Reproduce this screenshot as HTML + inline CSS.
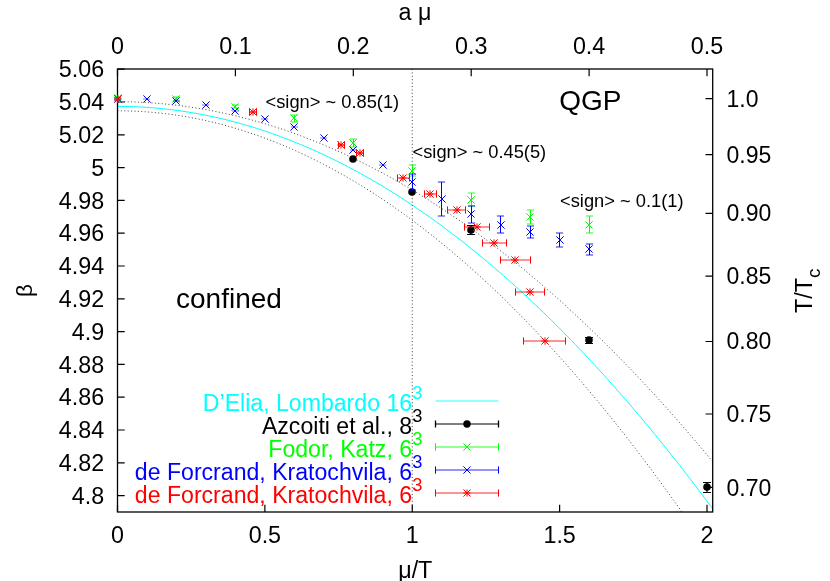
<!DOCTYPE html>
<html><head><meta charset="utf-8"><title>plot</title>
<style>html,body{margin:0;padding:0;background:#fff;}body{width:830px;height:581px;position:relative;overflow:hidden;font-family:"Liberation Sans",sans-serif;}</style></head>
<body>
<svg width="830" height="581" viewBox="0 0 830 581" style="position:absolute;left:0;top:0;will-change:transform" font-family="'Liberation Sans', sans-serif" font-size="23.3" fill="#000">
<rect x="0" y="0" width="830" height="581" fill="#fff"/>
<defs><clipPath id="c"><rect x="117.5" y="69" width="595.2" height="443"/></clipPath></defs>
<g clip-path="url(#c)" fill="none">
<polyline points="117.50,106.40 121.48,106.42 125.46,106.47 129.44,106.56 133.43,106.69 137.41,106.85 141.39,107.05 145.37,107.28 149.35,107.55 153.33,107.86 157.31,108.20 161.29,108.58 165.28,108.99 169.26,109.44 173.24,109.93 177.22,110.45 181.20,111.01 185.18,111.60 189.16,112.23 193.15,112.90 197.13,113.60 201.11,114.34 205.09,115.12 209.07,115.93 213.05,116.77 217.03,117.65 221.01,118.57 225.00,119.53 228.98,120.52 232.96,121.54 236.94,122.61 240.92,123.70 244.90,124.84 248.88,126.01 252.87,127.22 256.85,128.46 260.83,129.74 264.81,131.05 268.79,132.40 272.77,133.79 276.75,135.21 280.73,136.67 284.72,138.16 288.70,139.69 292.68,141.26 296.66,142.86 300.64,144.50 304.62,146.18 308.60,147.89 312.59,149.63 316.57,151.42 320.55,153.24 324.53,155.09 328.51,156.98 332.49,158.91 336.47,160.87 340.45,162.87 344.44,164.90 348.42,166.97 352.40,169.08 356.38,171.22 360.36,173.40 364.34,175.62 368.32,177.87 372.31,180.16 376.29,182.48 380.27,184.84 384.25,187.23 388.23,189.66 392.21,192.13 396.19,194.63 400.17,197.17 404.16,199.75 408.14,202.36 412.12,205.00 416.10,207.69 420.08,210.41 424.06,213.16 428.04,215.95 432.03,218.78 436.01,221.64 439.99,224.54 443.97,227.48 447.95,230.45 451.93,233.46 455.91,236.50 459.89,239.58 463.88,242.69 467.86,245.84 471.84,249.03 475.82,252.25 479.80,255.51 483.78,258.81 487.76,262.14 491.75,265.51 495.73,268.91 499.71,272.35 503.69,275.83 507.67,279.34 511.65,282.88 515.63,286.47 519.61,290.09 523.60,293.74 527.58,297.43 531.56,301.16 535.54,304.92 539.52,308.72 543.50,312.56 547.48,316.43 551.47,320.34 555.45,324.28 559.43,328.26 563.41,332.28 567.39,336.33 571.37,340.42 575.35,344.54 579.33,348.70 583.32,352.89 587.30,357.13 591.28,361.39 595.26,365.70 599.24,370.04 603.22,374.41 607.20,378.82 611.19,383.27 615.17,387.76 619.15,392.28 623.13,396.83 627.11,401.42 631.09,406.05 635.07,410.71 639.05,415.41 643.04,420.15 647.02,424.92 651.00,429.73 654.98,434.57 658.96,439.45 662.94,444.37 666.92,449.32 670.91,454.31 674.89,459.33 678.87,464.39 682.85,469.49 686.83,474.62 690.81,479.79 694.79,484.99 698.77,490.23 702.76,495.51 706.74,500.82 710.72,506.17 714.70,511.55" stroke="#00ffff" stroke-width="1"/>
<polyline points="117.50,101.70 121.48,101.72 125.46,101.76 129.44,101.84 133.43,101.96 137.41,102.10 141.39,102.28 145.37,102.49 149.35,102.73 153.33,103.00 157.31,103.31 161.29,103.65 165.28,104.02 169.26,104.42 173.24,104.86 177.22,105.32 181.20,105.82 185.18,106.35 189.16,106.92 193.15,107.51 197.13,108.14 201.11,108.80 205.09,109.49 209.07,110.22 213.05,110.98 217.03,111.77 221.01,112.59 225.00,113.44 228.98,114.33 232.96,115.24 236.94,116.19 240.92,117.18 244.90,118.19 248.88,119.24 252.87,120.32 256.85,121.43 260.83,122.57 264.81,123.75 268.79,124.96 272.77,126.20 276.75,127.47 280.73,128.77 284.72,130.11 288.70,131.48 292.68,132.88 296.66,134.31 300.64,135.78 304.62,137.28 308.60,138.81 312.59,140.37 316.57,141.96 320.55,143.59 324.53,145.25 328.51,146.94 332.49,148.66 336.47,150.42 340.45,152.20 344.44,154.02 348.42,155.88 352.40,157.76 356.38,159.68 360.36,161.63 364.34,163.61 368.32,165.62 372.31,167.66 376.29,169.74 380.27,171.85 384.25,173.99 388.23,176.17 392.21,178.37 396.19,180.61 400.17,182.88 404.16,185.19 408.14,187.52 412.12,189.89 416.10,192.29 420.08,194.72 424.06,197.18 428.04,199.68 432.03,202.21 436.01,204.77 439.99,207.36 443.97,209.99 447.95,212.64 451.93,215.33 455.91,218.06 459.89,220.81 463.88,223.60 467.86,226.41 471.84,229.26 475.82,232.15 479.80,235.06 483.78,238.01 487.76,240.99 491.75,244.00 495.73,247.04 499.71,250.12 503.69,253.23 507.67,256.37 511.65,259.54 515.63,262.75 519.61,265.98 523.60,269.25 527.58,272.55 531.56,275.89 535.54,279.25 539.52,282.65 543.50,286.08 547.48,289.54 551.47,293.04 555.45,296.57 559.43,300.13 563.41,303.72 567.39,307.34 571.37,311.00 575.35,314.68 579.33,318.40 583.32,322.16 587.30,325.94 591.28,329.76 595.26,333.61 599.24,337.49 603.22,341.40 607.20,345.35 611.19,349.32 615.17,353.33 619.15,357.38 623.13,361.45 627.11,365.56 631.09,369.70 635.07,373.87 639.05,378.07 643.04,382.31 647.02,386.57 651.00,390.87 654.98,395.21 658.96,399.57 662.94,403.97 666.92,408.40 670.91,412.86 674.89,417.35 678.87,421.88 682.85,426.43 686.83,431.02 690.81,435.65 694.79,440.30 698.77,444.99 702.76,449.70 706.74,454.46 710.72,459.24 714.70,464.05" stroke="#404040" stroke-width="1" stroke-dasharray="1,2.4"/>
<polyline points="117.50,110.80 121.48,110.82 125.46,110.88 129.44,110.98 133.43,111.12 137.41,111.30 141.39,111.52 145.37,111.78 149.35,112.08 153.33,112.42 157.31,112.80 161.29,113.22 165.28,113.67 169.26,114.17 173.24,114.71 177.22,115.29 181.20,115.91 185.18,116.57 189.16,117.27 193.15,118.01 197.13,118.79 201.11,119.60 205.09,120.46 209.07,121.36 213.05,122.30 217.03,123.28 221.01,124.29 225.00,125.35 228.98,126.45 232.96,127.59 236.94,128.77 240.92,129.98 244.90,131.24 248.88,132.54 252.87,133.88 256.85,135.25 260.83,136.67 264.81,138.13 268.79,139.63 272.77,141.16 276.75,142.74 280.73,144.36 284.72,146.01 288.70,147.71 292.68,149.45 296.66,151.22 300.64,153.04 304.62,154.90 308.60,156.79 312.59,158.73 316.57,160.71 320.55,162.72 324.53,164.78 328.51,166.88 332.49,169.01 336.47,171.19 340.45,173.40 344.44,175.66 348.42,177.95 352.40,180.29 356.38,182.67 360.36,185.08 364.34,187.54 368.32,190.03 372.31,192.57 376.29,195.14 380.27,197.76 384.25,200.41 388.23,203.11 392.21,205.84 396.19,208.62 400.17,211.43 404.16,214.29 408.14,217.18 412.12,220.12 416.10,223.09 420.08,226.10 424.06,229.16 428.04,232.25 432.03,235.39 436.01,238.56 439.99,241.78 443.97,245.03 447.95,248.32 451.93,251.66 455.91,255.03 459.89,258.44 463.88,261.90 467.86,265.39 471.84,268.93 475.82,272.50 479.80,276.11 483.78,279.76 487.76,283.46 491.75,287.19 495.73,290.96 499.71,294.78 503.69,298.63 507.67,302.52 511.65,306.46 515.63,310.43 519.61,314.44 523.60,318.49 527.58,322.59 531.56,326.72 535.54,330.89 539.52,335.10 543.50,339.35 547.48,343.65 551.47,347.98 555.45,352.35 559.43,356.76 563.41,361.21 567.39,365.70 571.37,370.24 575.35,374.81 579.33,379.42 583.32,384.07 587.30,388.76 591.28,393.49 595.26,398.26 599.24,403.07 603.22,407.93 607.20,412.82 611.19,417.75 615.17,422.72 619.15,427.73 623.13,432.78 627.11,437.87 631.09,443.00 635.07,448.17 639.05,453.38 643.04,458.63 647.02,463.92 651.00,469.25 654.98,474.62 658.96,480.03 662.94,485.48 666.92,490.97 670.91,496.50 674.89,502.07 678.87,507.68 682.85,513.33 686.83,519.02 690.81,524.75 694.79,530.52 698.77,536.33 702.76,542.18 706.74,548.06 710.72,553.99 714.70,559.96" stroke="#404040" stroke-width="1" stroke-dasharray="1,2.4"/>
<line x1="412.25" y1="69" x2="412.25" y2="512" stroke="#404040" stroke-width="1" stroke-dasharray="1,2.4"/>
</g>
<rect x="117.5" y="69" width="595.2" height="443" fill="none" stroke="#000" stroke-width="1.3"/>
<text x="104.1" y="77.3" text-anchor="end">5.06</text>
<text x="104.1" y="110.1" text-anchor="end">5.04</text>
<text x="104.1" y="142.9" text-anchor="end">5.02</text>
<text x="104.1" y="175.7" text-anchor="end">5</text>
<text x="104.1" y="208.5" text-anchor="end">4.98</text>
<text x="104.1" y="241.3" text-anchor="end">4.96</text>
<text x="104.1" y="274.1" text-anchor="end">4.94</text>
<text x="104.1" y="306.9" text-anchor="end">4.92</text>
<text x="104.1" y="339.7" text-anchor="end">4.9</text>
<text x="104.1" y="372.5" text-anchor="end">4.88</text>
<text x="104.1" y="405.3" text-anchor="end">4.86</text>
<text x="104.1" y="438.1" text-anchor="end">4.84</text>
<text x="104.1" y="470.9" text-anchor="end">4.82</text>
<text x="104.1" y="503.7" text-anchor="end">4.8</text>
<text x="117.5" y="543" text-anchor="middle">0</text>
<text x="264.875" y="543" text-anchor="middle">0.5</text>
<text x="412.25" y="543" text-anchor="middle">1</text>
<text x="559.625" y="543" text-anchor="middle">1.5</text>
<text x="707" y="543" text-anchor="middle">2</text>
<text x="117.5" y="53.6" text-anchor="middle">0</text>
<text x="235.4" y="53.6" text-anchor="middle">0.1</text>
<text x="353.3" y="53.6" text-anchor="middle">0.2</text>
<text x="471.2" y="53.6" text-anchor="middle">0.3</text>
<text x="589.1" y="53.6" text-anchor="middle">0.4</text>
<text x="707" y="53.6" text-anchor="middle">0.5</text>
<text x="726.5" y="106.5" font-size="23">1.0</text>
<text x="726.5" y="162.5" font-size="23">0.95</text>
<text x="726.5" y="221.2" font-size="23">0.90</text>
<text x="726.5" y="284.1" font-size="23">0.85</text>
<text x="726.5" y="349.4" font-size="23">0.80</text>
<text x="726.5" y="421.9" font-size="23">0.75</text>
<text x="726.5" y="495.7" font-size="23">0.70</text>
<path d="M117.5,69.2h7.2M117.5,102h7.2M117.5,134.8h7.2M117.5,167.6h7.2M117.5,200.4h7.2M117.5,233.2h7.2M117.5,266h7.2M117.5,298.8h7.2M117.5,331.6h7.2M117.5,364.4h7.2M117.5,397.2h7.2M117.5,430h7.2M117.5,462.8h7.2M117.5,495.6h7.2M117.5,512v-7.2M264.875,512v-7.2M412.25,512v-7.2M559.625,512v-7.2M707,512v-7.2M117.5,69v7.2M235.4,69v7.2M353.3,69v7.2M471.2,69v7.2M589.1,69v7.2M707,69v7.2M712.7,98.6h-7.2M712.7,154.6h-7.2M712.7,213.3h-7.2M712.7,276.2h-7.2M712.7,341.5h-7.2M712.7,414h-7.2M712.7,487.4h-7.2" stroke="#000" stroke-width="1.2" fill="none"/>
<text x="415" y="20" text-anchor="middle">a μ</text>
<text x="415.3" y="577.5" text-anchor="middle">μ/T</text>
<text transform="translate(31.7,290.6) rotate(-90)" text-anchor="middle" font-size="22.5">β</text>
<text transform="translate(812.2,290.8) rotate(-90)" text-anchor="middle">T/T<tspan font-size="19" dy="7.8">c</tspan></text>
<text x="265.5" y="108.4" font-size="18.3">&lt;sign&gt; ~ 0.85(1)</text>
<text x="412.5" y="157.8" font-size="18.3">&lt;sign&gt; ~ 0.45(5)</text>
<text x="560" y="206.6" font-size="18.3">&lt;sign&gt; ~ 0.1(1)</text>
<text x="176" y="308.2" font-size="28">confined</text>
<text x="559.2" y="110.3" font-size="28">QGP</text>
<g>
<circle cx="353.00" cy="159.00" r="3.8" fill="#000"/>
<circle cx="412.00" cy="192.00" r="3.8" fill="#000"/>
<path d="M471.00,225.50V234.50" stroke="#000" stroke-width="1.15" fill="none"/><path d="M467.00,225.50h8.00M467.00,234.50h8.00" stroke="#000" stroke-width="0.9775" fill="none"/>
<circle cx="471.00" cy="230.00" r="3.8" fill="#000"/>
<path d="M589.00,337.50V343.50" stroke="#000" stroke-width="1.15" fill="none"/><path d="M585.00,337.50h8.00M585.00,343.50h8.00" stroke="#000" stroke-width="0.9775" fill="none"/>
<circle cx="589.00" cy="340.00" r="3.8" fill="#000"/>
<path d="M707.00,482.50V492.50" stroke="#000" stroke-width="1.15" fill="none"/><path d="M703.00,482.50h8.00M703.00,492.50h8.00" stroke="#000" stroke-width="0.9775" fill="none"/>
<circle cx="707.00" cy="487.00" r="3.8" fill="#000"/>
<path d="M117.50,97.00V99.00" stroke="#00ff00" stroke-width="1" fill="none"/><path d="M113.90,97.00h7.20M113.90,99.00h7.20" stroke="#00ff00" stroke-width="0.85" fill="none"/>
<path d="M114.40,94.40l7.20,7.20M114.40,101.60l7.20,-7.20" stroke="#00ff00" stroke-width="1" fill="none"/>
<path d="M176.50,97.00V101.00" stroke="#00ff00" stroke-width="1" fill="none"/><path d="M172.90,97.00h7.20M172.90,101.00h7.20" stroke="#00ff00" stroke-width="0.85" fill="none"/>
<path d="M172.40,95.40l7.20,7.20M172.40,102.60l7.20,-7.20" stroke="#00ff00" stroke-width="1" fill="none"/>
<path d="M235.50,105.00V108.00" stroke="#00ff00" stroke-width="1" fill="none"/><path d="M231.90,105.00h7.20M231.90,108.00h7.20" stroke="#00ff00" stroke-width="0.85" fill="none"/>
<path d="M231.40,103.40l7.20,7.20M231.40,110.60l7.20,-7.20" stroke="#00ff00" stroke-width="1" fill="none"/>
<path d="M294.50,115.00V122.00" stroke="#00ff00" stroke-width="1" fill="none"/><path d="M290.90,115.00h7.20M290.90,122.00h7.20" stroke="#00ff00" stroke-width="0.85" fill="none"/>
<path d="M290.40,114.40l7.20,7.20M290.40,121.60l7.20,-7.20" stroke="#00ff00" stroke-width="1" fill="none"/>
<path d="M353.50,139.00V147.00" stroke="#00ff00" stroke-width="1" fill="none"/><path d="M349.90,139.00h7.20M349.90,147.00h7.20" stroke="#00ff00" stroke-width="0.85" fill="none"/>
<path d="M349.40,139.40l7.20,7.20M349.40,146.60l7.20,-7.20" stroke="#00ff00" stroke-width="1" fill="none"/>
<path d="M412.50,165.00V176.00" stroke="#00ff00" stroke-width="1" fill="none"/><path d="M408.90,165.00h7.20M408.90,176.00h7.20" stroke="#00ff00" stroke-width="0.85" fill="none"/>
<path d="M408.40,167.40l7.20,7.20M408.40,174.60l7.20,-7.20" stroke="#00ff00" stroke-width="1" fill="none"/>
<path d="M471.50,193.00V206.00" stroke="#00ff00" stroke-width="1" fill="none"/><path d="M467.90,193.00h7.20M467.90,206.00h7.20" stroke="#00ff00" stroke-width="0.85" fill="none"/>
<path d="M467.40,196.40l7.20,7.20M467.40,203.60l7.20,-7.20" stroke="#00ff00" stroke-width="1" fill="none"/>
<path d="M530.50,210.00V224.00" stroke="#00ff00" stroke-width="1" fill="none"/><path d="M526.90,210.00h7.20M526.90,224.00h7.20" stroke="#00ff00" stroke-width="0.85" fill="none"/>
<path d="M526.40,213.40l7.20,7.20M526.40,220.60l7.20,-7.20" stroke="#00ff00" stroke-width="1" fill="none"/>
<path d="M589.50,216.00V233.00" stroke="#00ff00" stroke-width="1" fill="none"/><path d="M585.90,216.00h7.20M585.90,233.00h7.20" stroke="#00ff00" stroke-width="0.85" fill="none"/>
<path d="M585.40,221.40l7.20,7.20M585.40,228.60l7.20,-7.20" stroke="#00ff00" stroke-width="1" fill="none"/>
<path d="M117.50,98.00V100.00" stroke="#0000ff" stroke-width="1" fill="none"/><path d="M113.90,98.00h7.20M113.90,100.00h7.20" stroke="#0000ff" stroke-width="0.85" fill="none"/>
<path d="M114.40,95.40l7.20,7.20M114.40,102.60l7.20,-7.20" stroke="#0000ff" stroke-width="1" fill="none"/>
<path d="M142.9,99h7.2" stroke="#0000ff" stroke-opacity="0.55" stroke-width="1" fill="none"/>
<path d="M143.40,95.40l7.20,7.20M143.40,102.60l7.20,-7.20" stroke="#0000ff" stroke-width="1" fill="none"/>
<path d="M172.9,101h7.2" stroke="#0000ff" stroke-opacity="0.55" stroke-width="1" fill="none"/>
<path d="M172.40,97.40l7.20,7.20M172.40,104.60l7.20,-7.20" stroke="#0000ff" stroke-width="1" fill="none"/>
<path d="M201.9,105h7.2" stroke="#0000ff" stroke-opacity="0.55" stroke-width="1" fill="none"/>
<path d="M202.40,101.40l7.20,7.20M202.40,108.60l7.20,-7.20" stroke="#0000ff" stroke-width="1" fill="none"/>
<path d="M231.9,111h7.2" stroke="#0000ff" stroke-opacity="0.55" stroke-width="1" fill="none"/>
<path d="M231.40,107.40l7.20,7.20M231.40,114.60l7.20,-7.20" stroke="#0000ff" stroke-width="1" fill="none"/>
<path d="M260.9,119h7.2" stroke="#0000ff" stroke-opacity="0.55" stroke-width="1" fill="none"/>
<path d="M261.40,115.40l7.20,7.20M261.40,122.60l7.20,-7.20" stroke="#0000ff" stroke-width="1" fill="none"/>
<path d="M290.9,127h7.2" stroke="#0000ff" stroke-opacity="0.55" stroke-width="1" fill="none"/>
<path d="M290.40,123.40l7.20,7.20M290.40,130.60l7.20,-7.20" stroke="#0000ff" stroke-width="1" fill="none"/>
<path d="M319.9,138h7.2" stroke="#0000ff" stroke-opacity="0.55" stroke-width="1" fill="none"/>
<path d="M320.40,134.40l7.20,7.20M320.40,141.60l7.20,-7.20" stroke="#0000ff" stroke-width="1" fill="none"/>
<path d="M349.9,150h7.2" stroke="#0000ff" stroke-opacity="0.55" stroke-width="1" fill="none"/>
<path d="M349.40,146.40l7.20,7.20M349.40,153.60l7.20,-7.20" stroke="#0000ff" stroke-width="1" fill="none"/>
<path d="M378.9,165h7.2" stroke="#0000ff" stroke-opacity="0.55" stroke-width="1" fill="none"/>
<path d="M379.40,161.40l7.20,7.20M379.40,168.60l7.20,-7.20" stroke="#0000ff" stroke-width="1" fill="none"/>
<path d="M412.50,174.00V190.00" stroke="#0000ff" stroke-width="1" fill="none"/><path d="M408.90,174.00h7.20M408.90,190.00h7.20" stroke="#0000ff" stroke-width="0.85" fill="none"/>
<path d="M408.40,178.40l7.20,7.20M408.40,185.60l7.20,-7.20" stroke="#0000ff" stroke-width="1" fill="none"/>
<path d="M441.50,182.00V216.00" stroke="#0000ff" stroke-width="1" fill="none"/><path d="M437.90,182.00h7.20M437.90,216.00h7.20" stroke="#0000ff" stroke-width="0.85" fill="none"/>
<path d="M438.40,195.40l7.20,7.20M438.40,202.60l7.20,-7.20" stroke="#0000ff" stroke-width="1" fill="none"/>
<path d="M471.50,206.00V223.00" stroke="#0000ff" stroke-width="1" fill="none"/><path d="M467.90,206.00h7.20M467.90,223.00h7.20" stroke="#0000ff" stroke-width="0.85" fill="none"/>
<path d="M467.40,210.40l7.20,7.20M467.40,217.60l7.20,-7.20" stroke="#0000ff" stroke-width="1" fill="none"/>
<path d="M500.50,216.00V233.00" stroke="#0000ff" stroke-width="1" fill="none"/><path d="M496.90,216.00h7.20M496.90,233.00h7.20" stroke="#0000ff" stroke-width="0.85" fill="none"/>
<path d="M497.40,221.40l7.20,7.20M497.40,228.60l7.20,-7.20" stroke="#0000ff" stroke-width="1" fill="none"/>
<path d="M530.50,226.00V238.00" stroke="#0000ff" stroke-width="1" fill="none"/><path d="M526.90,226.00h7.20M526.90,238.00h7.20" stroke="#0000ff" stroke-width="0.85" fill="none"/>
<path d="M526.40,228.40l7.20,7.20M526.40,235.60l7.20,-7.20" stroke="#0000ff" stroke-width="1" fill="none"/>
<path d="M559.50,233.00V247.00" stroke="#0000ff" stroke-width="1" fill="none"/><path d="M555.90,233.00h7.20M555.90,247.00h7.20" stroke="#0000ff" stroke-width="0.85" fill="none"/>
<path d="M556.40,236.40l7.20,7.20M556.40,243.60l7.20,-7.20" stroke="#0000ff" stroke-width="1" fill="none"/>
<path d="M589.50,244.00V255.00" stroke="#0000ff" stroke-width="1" fill="none"/><path d="M585.90,244.00h7.20M585.90,255.00h7.20" stroke="#0000ff" stroke-width="0.85" fill="none"/>
<path d="M585.40,245.40l7.20,7.20M585.40,252.60l7.20,-7.20" stroke="#0000ff" stroke-width="1" fill="none"/>
<path d="M117.50,99.00H117.50" stroke="#ff0000" stroke-width="0.85" fill="none"/><path d="M117.50,95.40v7.20M117.50,95.40v7.20" stroke="#ff0000" stroke-width="1" fill="none"/>
<path d="M114.40,95.40l7.20,7.20M114.40,102.60l7.20,-7.20" stroke="#ff0000" stroke-width="1" fill="none"/><path d="M114.40,99.00h7.20M118.00,95.40v7.20" stroke="#ff0000" stroke-width="1" fill="none"/>
<path d="M249.50,112.00H256.50" stroke="#ff0000" stroke-width="0.85" fill="none"/><path d="M249.50,108.40v7.20M256.50,108.40v7.20" stroke="#ff0000" stroke-width="1" fill="none"/>
<path d="M249.40,108.40l7.20,7.20M249.40,115.60l7.20,-7.20" stroke="#ff0000" stroke-width="1" fill="none"/><path d="M249.40,112.00h7.20M253.00,108.40v7.20" stroke="#ff0000" stroke-width="1" fill="none"/>
<path d="M338.50,145.00H344.50" stroke="#ff0000" stroke-width="0.85" fill="none"/><path d="M338.50,141.40v7.20M344.50,141.40v7.20" stroke="#ff0000" stroke-width="1" fill="none"/>
<path d="M337.40,141.40l7.20,7.20M337.40,148.60l7.20,-7.20" stroke="#ff0000" stroke-width="1" fill="none"/><path d="M337.40,145.00h7.20M341.00,141.40v7.20" stroke="#ff0000" stroke-width="1" fill="none"/>
<path d="M356.50,153.00H363.50" stroke="#ff0000" stroke-width="0.85" fill="none"/><path d="M356.50,149.40v7.20M363.50,149.40v7.20" stroke="#ff0000" stroke-width="1" fill="none"/>
<path d="M356.40,149.40l7.20,7.20M356.40,156.60l7.20,-7.20" stroke="#ff0000" stroke-width="1" fill="none"/><path d="M356.40,153.00h7.20M360.00,149.40v7.20" stroke="#ff0000" stroke-width="1" fill="none"/>
<path d="M397.50,178.00H409.50" stroke="#ff0000" stroke-width="0.85" fill="none"/><path d="M397.50,174.40v7.20M409.50,174.40v7.20" stroke="#ff0000" stroke-width="1" fill="none"/>
<path d="M399.40,174.40l7.20,7.20M399.40,181.60l7.20,-7.20" stroke="#ff0000" stroke-width="1" fill="none"/><path d="M399.40,178.00h7.20M403.00,174.40v7.20" stroke="#ff0000" stroke-width="1" fill="none"/>
<path d="M424.50,194.00H436.50" stroke="#ff0000" stroke-width="0.85" fill="none"/><path d="M424.50,190.40v7.20M436.50,190.40v7.20" stroke="#ff0000" stroke-width="1" fill="none"/>
<path d="M426.40,190.40l7.20,7.20M426.40,197.60l7.20,-7.20" stroke="#ff0000" stroke-width="1" fill="none"/><path d="M426.40,194.00h7.20M430.00,190.40v7.20" stroke="#ff0000" stroke-width="1" fill="none"/>
<path d="M447.50,210.00H465.50" stroke="#ff0000" stroke-width="0.85" fill="none"/><path d="M447.50,206.40v7.20M465.50,206.40v7.20" stroke="#ff0000" stroke-width="1" fill="none"/>
<path d="M453.40,206.40l7.20,7.20M453.40,213.60l7.20,-7.20" stroke="#ff0000" stroke-width="1" fill="none"/><path d="M453.40,210.00h7.20M457.00,206.40v7.20" stroke="#ff0000" stroke-width="1" fill="none"/>
<path d="M464.50,227.00H489.50" stroke="#ff0000" stroke-width="0.85" fill="none"/><path d="M464.50,223.40v7.20M489.50,223.40v7.20" stroke="#ff0000" stroke-width="1" fill="none"/>
<path d="M473.40,223.40l7.20,7.20M473.40,230.60l7.20,-7.20" stroke="#ff0000" stroke-width="1" fill="none"/><path d="M473.40,227.00h7.20M477.00,223.40v7.20" stroke="#ff0000" stroke-width="1" fill="none"/>
<path d="M482.50,243.00H506.50" stroke="#ff0000" stroke-width="0.85" fill="none"/><path d="M482.50,239.40v7.20M506.50,239.40v7.20" stroke="#ff0000" stroke-width="1" fill="none"/>
<path d="M490.40,239.40l7.20,7.20M490.40,246.60l7.20,-7.20" stroke="#ff0000" stroke-width="1" fill="none"/><path d="M490.40,243.00h7.20M494.00,239.40v7.20" stroke="#ff0000" stroke-width="1" fill="none"/>
<path d="M500.50,260.00H530.50" stroke="#ff0000" stroke-width="0.85" fill="none"/><path d="M500.50,256.40v7.20M530.50,256.40v7.20" stroke="#ff0000" stroke-width="1" fill="none"/>
<path d="M511.40,256.40l7.20,7.20M511.40,263.60l7.20,-7.20" stroke="#ff0000" stroke-width="1" fill="none"/><path d="M511.40,260.00h7.20M515.00,256.40v7.20" stroke="#ff0000" stroke-width="1" fill="none"/>
<path d="M515.50,292.00H544.50" stroke="#ff0000" stroke-width="0.85" fill="none"/><path d="M515.50,288.40v7.20M544.50,288.40v7.20" stroke="#ff0000" stroke-width="1" fill="none"/>
<path d="M526.40,288.40l7.20,7.20M526.40,295.60l7.20,-7.20" stroke="#ff0000" stroke-width="1" fill="none"/><path d="M526.40,292.00h7.20M530.00,288.40v7.20" stroke="#ff0000" stroke-width="1" fill="none"/>
<path d="M523.50,341.00H565.50" stroke="#ff0000" stroke-width="0.85" fill="none"/><path d="M523.50,337.40v7.20M565.50,337.40v7.20" stroke="#ff0000" stroke-width="1" fill="none"/>
<path d="M541.40,337.40l7.20,7.20M541.40,344.60l7.20,-7.20" stroke="#ff0000" stroke-width="1" fill="none"/><path d="M541.40,341.00h7.20M545.00,337.40v7.20" stroke="#ff0000" stroke-width="1" fill="none"/>
</g>
<text x="412.1" y="411.1" text-anchor="end" font-size="23.1" fill="#00ffff">D’Elia, Lombardo 16</text>
<text x="412.3" y="399.1" font-size="18.3" fill="#00ffff">3</text>
<text x="412.1" y="434.1" text-anchor="end" font-size="23.1" fill="#000">Azcoiti et al., 8</text>
<text x="412.3" y="422.1" font-size="18.3" fill="#000">3</text>
<text x="412.1" y="457.1" text-anchor="end" font-size="23.1" fill="#00ff00">Fodor, Katz, 6</text>
<text x="412.3" y="445.1" font-size="18.3" fill="#00ff00">3</text>
<text x="412.1" y="480.1" text-anchor="end" font-size="23.1" fill="#0000ff">de Forcrand, Kratochvila, 6</text>
<text x="412.3" y="468.1" font-size="18.3" fill="#0000ff">3</text>
<text x="412.1" y="503.1" text-anchor="end" font-size="23.1" fill="#ff0000">de Forcrand, Kratochvila, 6</text>
<text x="412.3" y="491.1" font-size="18.3" fill="#ff0000">3</text>
<path d="M435.5,401H498.5" stroke="#00ffff" stroke-width="0.85"/>
<path d="M435.50,424.00H498.50" stroke="#000" stroke-width="1.105" fill="none"/><path d="M435.50,420.40v7.20M498.50,420.40v7.20" stroke="#000" stroke-width="1.3" fill="none"/>
<circle cx="467" cy="424" r="3.7"/>
<path d="M435.50,447.00H498.50" stroke="#00ff00" stroke-width="0.85" fill="none"/><path d="M435.50,443.40v7.20M498.50,443.40v7.20" stroke="#00ff00" stroke-width="1" fill="none"/>
<path d="M463.40,443.40l7.20,7.20M463.40,450.60l7.20,-7.20" stroke="#00ff00" stroke-width="1" fill="none"/>
<path d="M435.50,470.00H498.50" stroke="#0000ff" stroke-width="0.85" fill="none"/><path d="M435.50,466.40v7.20M498.50,466.40v7.20" stroke="#0000ff" stroke-width="1" fill="none"/>
<path d="M463.40,466.40l7.20,7.20M463.40,473.60l7.20,-7.20" stroke="#0000ff" stroke-width="1" fill="none"/>
<path d="M435.50,493.00H498.50" stroke="#ff0000" stroke-width="0.85" fill="none"/><path d="M435.50,489.40v7.20M498.50,489.40v7.20" stroke="#ff0000" stroke-width="1" fill="none"/>
<path d="M463.40,489.40l7.20,7.20M463.40,496.60l7.20,-7.20" stroke="#ff0000" stroke-width="1" fill="none"/><path d="M463.40,493.00h7.20M467.00,489.40v7.20" stroke="#ff0000" stroke-width="1" fill="none"/>
</svg>
</body></html>
